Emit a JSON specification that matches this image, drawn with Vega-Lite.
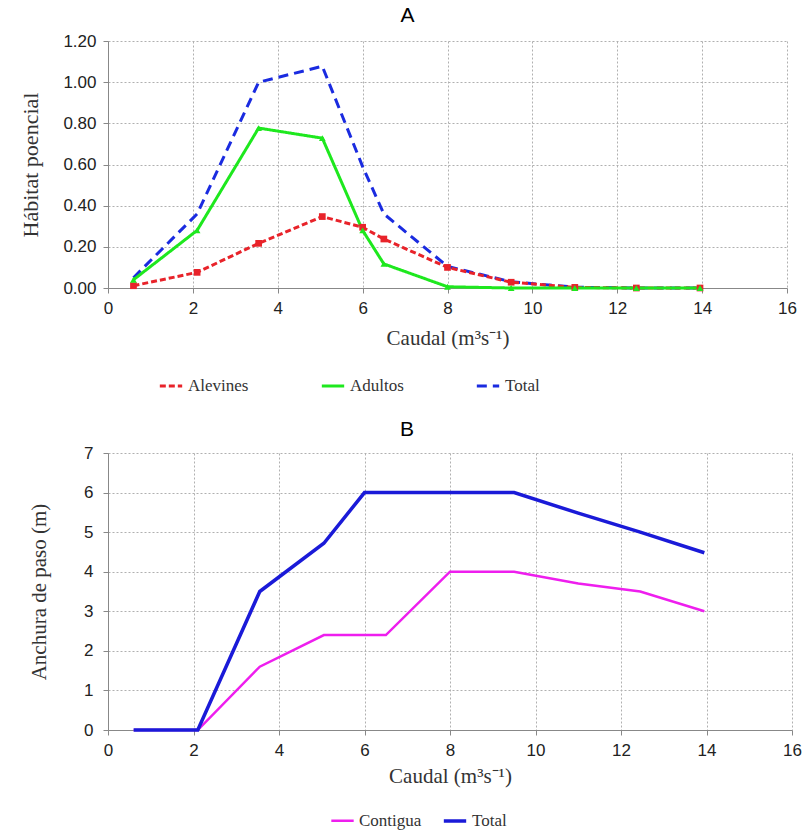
{
  "$schema": "https://vega.github.io/schema/vega-lite/v6.json",
  "padding": {"left": 19, "top": 5, "right": 5, "bottom": 15},
  "background": "white",
  "spacing": 25,
  "resolve": {
    "scale": {"color": "independent", "strokeDash": "independent", "strokeWidth": "independent", "x": "independent", "y": "independent"},
    "legend": {"color": "independent", "strokeDash": "independent", "strokeWidth": "independent"}
  },
  "config": {
    "view": {"stroke": null},
    "axis": {
      "grid": true, "gridDash": [2, 2], "gridColor": "#b0b0b0", "gridWidth": 1,
      "domainColor": "#888", "tickColor": "#888", "tickSize": 5, "labelFlush": false,
      "labelFont": "Liberation Sans", "labelFontSize": 17, "labelColor": "#222",
      "titleFont": "Liberation Serif", "titleFontWeight": "normal", "titleColor": "#333"
    },
    "legend": {
      "labelFont": "Liberation Serif", "labelFontSize": 17, "labelColor": "#333",
      "symbolType": "stroke", "symbolSize": 500, "symbolStrokeWidth": 3,
      "title": null, "orient": "none", "direction": "horizontal"
    },
    "title": {"font": "Liberation Sans", "fontSize": 21, "fontWeight": "normal", "color": "#000"}
  },
  "vconcat": [
    {
      "title": {"text": "A", "dx": -40, "offset": 6},
      "width": 679,
      "height": 247,
      "data": {"values": [
        {"q": 0.6, "v": 0.05, "s": "Total"},
        {"q": 2.1, "v": 0.36, "s": "Total"},
        {"q": 3.55, "v": 1.0, "s": "Total"},
        {"q": 5.05, "v": 1.077, "s": "Total"},
        {"q": 6.0, "v": 0.59, "s": "Total"},
        {"q": 6.5, "v": 0.36, "s": "Total"},
        {"q": 8.0, "v": 0.105, "s": "Total"},
        {"q": 9.5, "v": 0.03, "s": "Total"},
        {"q": 11.0, "v": 0.004, "s": "Total"},
        {"q": 12.45, "v": 0.0, "s": "Total"},
        {"q": 13.95, "v": 0.0, "s": "Total"},
        {"q": 0.6, "v": 0.011, "s": "Alevines"},
        {"q": 2.1, "v": 0.076, "s": "Alevines"},
        {"q": 3.55, "v": 0.217, "s": "Alevines"},
        {"q": 5.05, "v": 0.347, "s": "Alevines"},
        {"q": 6.0, "v": 0.295, "s": "Alevines"},
        {"q": 6.5, "v": 0.238, "s": "Alevines"},
        {"q": 8.0, "v": 0.1, "s": "Alevines"},
        {"q": 9.5, "v": 0.028, "s": "Alevines"},
        {"q": 11.0, "v": 0.003, "s": "Alevines"},
        {"q": 12.45, "v": 0.0, "s": "Alevines"},
        {"q": 13.95, "v": 0.0, "s": "Alevines"},
        {"q": 0.6, "v": 0.04, "s": "Adultos"},
        {"q": 2.1, "v": 0.28, "s": "Adultos"},
        {"q": 3.55, "v": 0.777, "s": "Adultos"},
        {"q": 5.05, "v": 0.728, "s": "Adultos"},
        {"q": 6.0, "v": 0.28, "s": "Adultos"},
        {"q": 6.5, "v": 0.117, "s": "Adultos"},
        {"q": 8.0, "v": 0.006, "s": "Adultos"},
        {"q": 9.5, "v": 0.0, "s": "Adultos"},
        {"q": 11.0, "v": 0.0, "s": "Adultos"},
        {"q": 12.45, "v": 0.0, "s": "Adultos"},
        {"q": 13.95, "v": 0.0, "s": "Adultos"}
      ]},
      "encoding": {
        "x": {"field": "q", "type": "quantitative", "scale": {"domain": [0, 16], "nice": false},
          "axis": {"values": [0, 2, 4, 6, 8, 10, 12, 14, 16], "title": "Caudal (m³s⁻¹)", "titleFontSize": 21, "labelPadding": 7, "titlePadding": 11}},
        "y": {"field": "v", "type": "quantitative", "scale": {"domain": [0, 1.2], "nice": false},
          "axis": {"values": [0, 0.2, 0.4, 0.6, 0.8, 1.0, 1.2], "format": ".2f", "title": "Hábitat poencial", "titleFontSize": 22, "labelPadding": 7, "titlePadding": 20}}
      },
      "layer": [
        {
          "mark": {"type": "line", "strokeWidth": 3},
          "encoding": {
            "color": {"field": "s", "type": "nominal",
              "scale": {"domain": ["Alevines", "Adultos", "Total"], "range": ["#e8232a", "#1ee81e", "#1a2be0"]},
              "legend": {"legendX": 50, "legendY": 332, "columnPadding": 66}},
            "strokeDash": {"field": "s", "type": "nominal",
              "scale": {"domain": ["Alevines", "Adultos", "Total"], "range": [[6, 3], [1, 0], [10, 6]]},
              "legend": {"legendX": 50, "legendY": 332, "columnPadding": 66}},
            "strokeWidth": {"field": "s", "type": "nominal", "legend": null,
              "scale": {"domain": ["Alevines", "Adultos", "Total"], "range": [3, 3, 4]}},
            "order": {"field": "q"}
          }
        },
        {
          "transform": [{"filter": "datum.s === 'Alevines'"}],
          "mark": {"type": "square", "color": "#e8232a", "size": 45, "opacity": 1}
        },
        {
          "transform": [{"filter": "datum.s === 'Adultos'"}],
          "mark": {"type": "point", "shape": "triangle-up", "filled": true, "color": "#1ee81e", "size": 45, "opacity": 1}
        }
      ]
    },
    {
      "title": {"text": "B", "dx": -43, "offset": 4},
      "width": 684,
      "height": 277,
      "data": {"values": [
        {"q": 0.6, "v": 0, "s": "Contigua"},
        {"q": 2.1, "v": 0, "s": "Contigua"},
        {"q": 3.55, "v": 1.6, "s": "Contigua"},
        {"q": 5.05, "v": 2.4, "s": "Contigua"},
        {"q": 6.5, "v": 2.4, "s": "Contigua"},
        {"q": 8.0, "v": 4.0, "s": "Contigua"},
        {"q": 9.5, "v": 4.0, "s": "Contigua"},
        {"q": 11.0, "v": 3.7, "s": "Contigua"},
        {"q": 12.45, "v": 3.5, "s": "Contigua"},
        {"q": 13.95, "v": 3.0, "s": "Contigua"},
        {"q": 0.6, "v": 0, "s": "Total"},
        {"q": 2.1, "v": 0, "s": "Total"},
        {"q": 3.55, "v": 3.5, "s": "Total"},
        {"q": 5.05, "v": 4.72, "s": "Total"},
        {"q": 6.0, "v": 6.0, "s": "Total"},
        {"q": 8.0, "v": 6.0, "s": "Total"},
        {"q": 9.5, "v": 6.0, "s": "Total"},
        {"q": 11.0, "v": 5.48, "s": "Total"},
        {"q": 12.45, "v": 5.0, "s": "Total"},
        {"q": 13.95, "v": 4.48, "s": "Total"}
      ]},
      "mark": {"type": "line"},
      "encoding": {
        "x": {"field": "q", "type": "quantitative", "scale": {"domain": [0, 16], "nice": false},
          "axis": {"values": [0, 2, 4, 6, 8, 10, 12, 14, 16], "title": "Caudal (m³s⁻¹)", "titleFontSize": 21, "labelPadding": 7, "titlePadding": 7}},
        "y": {"field": "v", "type": "quantitative", "scale": {"domain": [0, 7], "nice": false},
          "axis": {"values": [0, 1, 2, 3, 4, 5, 6, 7], "title": "Anchura de paso (m)", "titleFontSize": 21, "labelPadding": 10, "titlePadding": 34}},
        "color": {"field": "s", "type": "nominal",
          "scale": {"domain": ["Contigua", "Total"], "range": ["#ee1eee", "#1a1ad8"]},
          "legend": {"legendX": 222, "legendY": 355, "columnPadding": 14}},
        "strokeWidth": {"field": "s", "type": "nominal", "legend": null,
          "scale": {"domain": ["Contigua", "Total"], "range": [2.5, 3.5]}},
        "order": {"field": "q"}
      }
    }
  ]
}
